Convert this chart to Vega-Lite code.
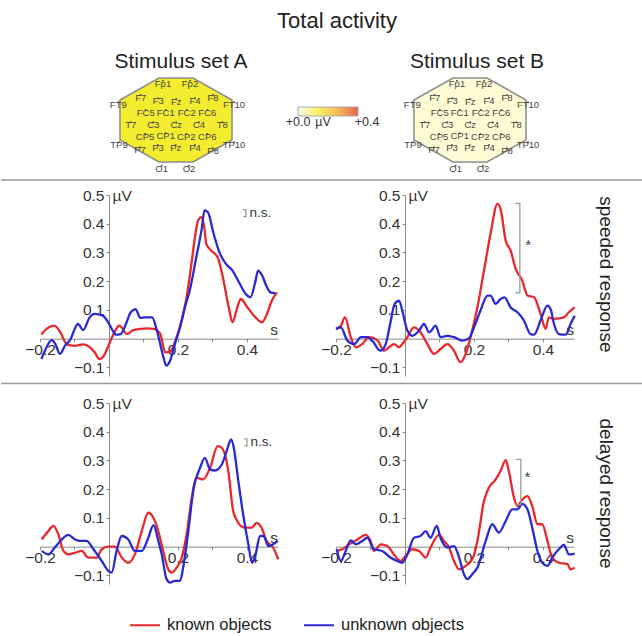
{
"$schema": "https://vega.github.io/schema/vega-lite/v6.json",
"padding": {"top": 10, "left": 0, "right": 0, "bottom": 0},
"background": "white",
"title": {"text": "Total activity", "fontSize": 22, "fontWeight": "normal", "color": "#222", "anchor": "middle", "dx": 15, "offset": 18},
"config": {"font": "Liberation Sans", "view": {"stroke": null}, "axis": {"labelOverlap": false}},
"bounds": "flush",
"spacing": 0,
"columns": 5,
"resolve": {"scale": {"fill": "independent"}},
"datasets": {
"electrodes": [
{"e":"Fp1","x":-13,"y":39.3},{"e":"Fp2","x":14,"y":39.3},
{"e":"F7","x":-35.3,"y":25},{"e":"F3","x":-17.7,"y":21.7},{"e":"Fz","x":0.3,"y":21},{"e":"F4","x":19,"y":21.7},{"e":"F8","x":37,"y":25},
{"e":"FT9","x":-57.7,"y":17.7},{"e":"FT10","x":58,"y":17.7},
{"e":"FC5","x":-30.3,"y":10},{"e":"FC1","x":-10.3,"y":10},{"e":"FC2","x":10.7,"y":10},{"e":"FC6","x":31.3,"y":10},
{"e":"T7","x":-45.3,"y":-2.3},{"e":"C3","x":-22.7,"y":-2.3},{"e":"Cz","x":0.3,"y":-2.3},{"e":"C4","x":23,"y":-2.3},{"e":"T8","x":46.3,"y":-2.3},
{"e":"CP5","x":-31,"y":-14},{"e":"CP1","x":-10.3,"y":-13.3},{"e":"CP2","x":10.3,"y":-14},{"e":"CP6","x":31.3,"y":-14},
{"e":"TP9","x":-57,"y":-22.3},{"e":"TP10","x":58,"y":-22.3},
{"e":"P7","x":-36,"y":-27.3},{"e":"P3","x":-18,"y":-25},{"e":"Pz","x":-0.3,"y":-25},{"e":"P4","x":19,"y":-25},{"e":"P8","x":37,"y":-28.3},
{"e":"O1","x":-14.3,"y":-45.7},{"e":"O2","x":13,"y":-45.7}
],
"brackets": [
{"panel":"A1","x":0.389,"y":0.449,"ord":0},{"panel":"A1","x":0.397,"y":0.449,"ord":1},{"panel":"A1","x":0.397,"y":0.425,"ord":2},{"panel":"A1","x":0.389,"y":0.425,"ord":3},
{"panel":"A2","x":0.392,"y":0.375,"ord":0},{"panel":"A2","x":0.4,"y":0.375,"ord":1},{"panel":"A2","x":0.4,"y":0.351,"ord":2},{"panel":"A2","x":0.392,"y":0.351,"ord":3},
{"panel":"B1","x":0.319,"y":0.471,"ord":0},{"panel":"B1","x":0.333,"y":0.471,"ord":1},{"panel":"B1","x":0.333,"y":0.159,"ord":2},{"panel":"B1","x":0.319,"y":0.159,"ord":3},
{"panel":"B2","x":0.322,"y":0.304,"ord":0},{"panel":"B2","x":0.336,"y":0.304,"ord":1},{"panel":"B2","x":0.336,"y":0.146,"ord":2},{"panel":"B2","x":0.322,"y":0.146,"ord":3}
],
"notes": [
{"panel":"A1","x":0.439,"y":0.437,"label":"n.s."},
{"panel":"A2","x":0.442,"y":0.363,"label":"n.s."},
{"panel":"B1","x":0.357,"y":0.324,"label":"*"},
{"panel":"B2","x":0.355,"y":0.239,"label":"*"}
],
"lines": [
{"panel":"A1","series":"known objects","x":-0.196,"y":0.014},{"panel":"A1","series":"known objects","x":-0.18,"y":0.035},{"panel":"A1","series":"known objects","x":-0.158,"y":0.045},{"panel":"A1","series":"known objects","x":-0.14,"y":0.02},{"panel":"A1","series":"known objects","x":-0.123,"y":-0.019},{"panel":"A1","series":"known objects","x":-0.1,"y":-0.025},{"panel":"A1","series":"known objects","x":-0.075,"y":-0.02},{"panel":"A1","series":"known objects","x":-0.055,"y":-0.03},{"panel":"A1","series":"known objects","x":-0.04,"y":-0.05},{"panel":"A1","series":"known objects","x":-0.028,"y":-0.071},{"panel":"A1","series":"known objects","x":-0.015,"y":-0.06},{"panel":"A1","series":"known objects","x":0.0,"y":-0.02},{"panel":"A1","series":"known objects","x":0.015,"y":0.02},{"panel":"A1","series":"known objects","x":0.03,"y":0.045},{"panel":"A1","series":"known objects","x":0.053,"y":0.016},{"panel":"A1","series":"known objects","x":0.07,"y":0.03},{"panel":"A1","series":"known objects","x":0.091,"y":0.034},{"panel":"A1","series":"known objects","x":0.11,"y":0.036},{"panel":"A1","series":"known objects","x":0.13,"y":0.034},{"panel":"A1","series":"known objects","x":0.149,"y":0.016},{"panel":"A1","series":"known objects","x":0.163,"y":-0.048},{"panel":"A1","series":"known objects","x":0.177,"y":-0.045},{"panel":"A1","series":"known objects","x":0.196,"y":0.005},{"panel":"A1","series":"known objects","x":0.212,"y":0.07},{"panel":"A1","series":"known objects","x":0.225,"y":0.144},{"panel":"A1","series":"known objects","x":0.239,"y":0.26},{"panel":"A1","series":"known objects","x":0.25,"y":0.36},{"panel":"A1","series":"known objects","x":0.258,"y":0.41},{"panel":"A1","series":"known objects","x":0.268,"y":0.423},{"panel":"A1","series":"known objects","x":0.276,"y":0.39},{"panel":"A1","series":"known objects","x":0.282,"y":0.33},{"panel":"A1","series":"known objects","x":0.296,"y":0.307},{"panel":"A1","series":"known objects","x":0.315,"y":0.283},{"panel":"A1","series":"known objects","x":0.33,"y":0.214},{"panel":"A1","series":"known objects","x":0.349,"y":0.098},{"panel":"A1","series":"known objects","x":0.358,"y":0.057},{"panel":"A1","series":"known objects","x":0.372,"y":0.109},{"panel":"A1","series":"known objects","x":0.382,"y":0.138},{"panel":"A1","series":"known objects","x":0.401,"y":0.109},{"panel":"A1","series":"known objects","x":0.425,"y":0.074},{"panel":"A1","series":"known objects","x":0.444,"y":0.057},{"panel":"A1","series":"known objects","x":0.458,"y":0.086},{"panel":"A1","series":"known objects","x":0.472,"y":0.132},{"panel":"A1","series":"known objects","x":0.487,"y":0.161},
{"panel":"A1","series":"unknown objects","x":-0.196,"y":-0.071},{"panel":"A1","series":"unknown objects","x":-0.185,"y":-0.04},{"panel":"A1","series":"unknown objects","x":-0.166,"y":-0.005},{"panel":"A1","series":"unknown objects","x":-0.155,"y":-0.02},{"panel":"A1","series":"unknown objects","x":-0.142,"y":-0.053},{"panel":"A1","series":"unknown objects","x":-0.128,"y":-0.025},{"panel":"A1","series":"unknown objects","x":-0.113,"y":-0.005},{"panel":"A1","series":"unknown objects","x":-0.09,"y":0.051},{"panel":"A1","series":"unknown objects","x":-0.075,"y":0.03},{"panel":"A1","series":"unknown objects","x":-0.056,"y":0.074},{"panel":"A1","series":"unknown objects","x":-0.042,"y":0.086},{"panel":"A1","series":"unknown objects","x":-0.018,"y":0.08},{"panel":"A1","series":"unknown objects","x":-0.004,"y":0.06},{"panel":"A1","series":"unknown objects","x":0.01,"y":0.03},{"panel":"A1","series":"unknown objects","x":0.02,"y":0.014},{"panel":"A1","series":"unknown objects","x":0.034,"y":0.016},{"panel":"A1","series":"unknown objects","x":0.049,"y":0.051},{"panel":"A1","series":"unknown objects","x":0.063,"y":0.092},{"panel":"A1","series":"unknown objects","x":0.077,"y":0.103},{"panel":"A1","series":"unknown objects","x":0.091,"y":0.072},{"panel":"A1","series":"unknown objects","x":0.105,"y":0.074},{"panel":"A1","series":"unknown objects","x":0.125,"y":0.074},{"panel":"A1","series":"unknown objects","x":0.139,"y":0.028},{"panel":"A1","series":"unknown objects","x":0.158,"y":-0.065},{"panel":"A1","series":"unknown objects","x":0.166,"y":-0.094},{"panel":"A1","series":"unknown objects","x":0.177,"y":-0.077},{"panel":"A1","series":"unknown objects","x":0.191,"y":-0.019},{"panel":"A1","series":"unknown objects","x":0.206,"y":0.039},{"panel":"A1","series":"unknown objects","x":0.22,"y":0.109},{"panel":"A1","series":"unknown objects","x":0.234,"y":0.167},{"panel":"A1","series":"unknown objects","x":0.253,"y":0.283},{"panel":"A1","series":"unknown objects","x":0.268,"y":0.376},{"panel":"A1","series":"unknown objects","x":0.277,"y":0.446},{"panel":"A1","series":"unknown objects","x":0.287,"y":0.44},{"panel":"A1","series":"unknown objects","x":0.301,"y":0.376},{"panel":"A1","series":"unknown objects","x":0.32,"y":0.301},{"panel":"A1","series":"unknown objects","x":0.339,"y":0.26},{"panel":"A1","series":"unknown objects","x":0.358,"y":0.237},{"panel":"A1","series":"unknown objects","x":0.377,"y":0.196},{"panel":"A1","series":"unknown objects","x":0.396,"y":0.156},{"panel":"A1","series":"unknown objects","x":0.41,"y":0.144},{"panel":"A1","series":"unknown objects","x":0.425,"y":0.202},{"panel":"A1","series":"unknown objects","x":0.432,"y":0.237},{"panel":"A1","series":"unknown objects","x":0.444,"y":0.22},{"panel":"A1","series":"unknown objects","x":0.458,"y":0.179},{"panel":"A1","series":"unknown objects","x":0.468,"y":0.161},{"panel":"A1","series":"unknown objects","x":0.482,"y":0.158},
{"panel":"B1","series":"known objects","x":-0.2,"y":0.034},{"panel":"B1","series":"known objects","x":-0.186,"y":0.045},{"panel":"B1","series":"known objects","x":-0.174,"y":0.074},{"panel":"B1","series":"known objects","x":-0.157,"y":0.005},{"panel":"B1","series":"known objects","x":-0.143,"y":-0.03},{"panel":"B1","series":"known objects","x":-0.124,"y":-0.019},{"panel":"B1","series":"known objects","x":-0.104,"y":0.005},{"panel":"B1","series":"known objects","x":-0.08,"y":-0.005},{"panel":"B1","series":"known objects","x":-0.061,"y":-0.042},{"panel":"B1","series":"known objects","x":-0.046,"y":-0.03},{"panel":"B1","series":"known objects","x":-0.032,"y":-0.019},{"panel":"B1","series":"known objects","x":-0.017,"y":-0.03},{"panel":"B1","series":"known objects","x":-0.008,"y":-0.019},{"panel":"B1","series":"known objects","x":0.007,"y":0.005},{"panel":"B1","series":"known objects","x":0.026,"y":0.039},{"panel":"B1","series":"known objects","x":0.045,"y":0.022},{"panel":"B1","series":"known objects","x":0.065,"y":-0.019},{"panel":"B1","series":"known objects","x":0.084,"y":-0.053},{"panel":"B1","series":"known objects","x":0.103,"y":-0.036},{"panel":"B1","series":"known objects","x":0.123,"y":-0.019},{"panel":"B1","series":"known objects","x":0.142,"y":-0.042},{"panel":"B1","series":"known objects","x":0.161,"y":-0.082},{"panel":"B1","series":"known objects","x":0.176,"y":-0.053},{"panel":"B1","series":"known objects","x":0.19,"y":0.005},{"panel":"B1","series":"known objects","x":0.21,"y":0.109},{"panel":"B1","series":"known objects","x":0.229,"y":0.237},{"panel":"B1","series":"known objects","x":0.248,"y":0.365},{"panel":"B1","series":"known objects","x":0.268,"y":0.469},{"panel":"B1","series":"known objects","x":0.277,"y":0.452},{"panel":"B1","series":"known objects","x":0.292,"y":0.341},{"panel":"B1","series":"known objects","x":0.306,"y":0.307},{"panel":"B1","series":"known objects","x":0.321,"y":0.243},{"panel":"B1","series":"known objects","x":0.34,"y":0.202},{"panel":"B1","series":"known objects","x":0.355,"y":0.15},{"panel":"B1","series":"known objects","x":0.374,"y":0.144},{"panel":"B1","series":"known objects","x":0.393,"y":0.086},{"panel":"B1","series":"known objects","x":0.408,"y":0.034},{"panel":"B1","series":"known objects","x":0.417,"y":0.074},{"panel":"B1","series":"known objects","x":0.432,"y":0.069},{"panel":"B1","series":"known objects","x":0.461,"y":0.074},{"panel":"B1","series":"known objects","x":0.475,"y":0.092},{"panel":"B1","series":"known objects","x":0.492,"y":0.109},
{"panel":"B1","series":"unknown objects","x":-0.2,"y":0.034},{"panel":"B1","series":"unknown objects","x":-0.186,"y":0.039},{"panel":"B1","series":"unknown objects","x":-0.167,"y":-0.007},{"panel":"B1","series":"unknown objects","x":-0.147,"y":-0.019},{"panel":"B1","series":"unknown objects","x":-0.128,"y":0.005},{"panel":"B1","series":"unknown objects","x":-0.109,"y":0.005},{"panel":"B1","series":"unknown objects","x":-0.095,"y":-0.007},{"panel":"B1","series":"unknown objects","x":-0.071,"y":-0.042},{"panel":"B1","series":"unknown objects","x":-0.056,"y":-0.019},{"panel":"B1","series":"unknown objects","x":-0.043,"y":0.051},{"panel":"B1","series":"unknown objects","x":-0.03,"y":0.121},{"panel":"B1","series":"unknown objects","x":-0.017,"y":0.132},{"panel":"B1","series":"unknown objects","x":-0.008,"y":0.098},{"panel":"B1","series":"unknown objects","x":0.007,"y":0.028},{"panel":"B1","series":"unknown objects","x":0.021,"y":0.01},{"panel":"B1","series":"unknown objects","x":0.041,"y":0.028},{"panel":"B1","series":"unknown objects","x":0.055,"y":0.051},{"panel":"B1","series":"unknown objects","x":0.07,"y":0.022},{"panel":"B1","series":"unknown objects","x":0.089,"y":0.045},{"panel":"B1","series":"unknown objects","x":0.103,"y":0.005},{"panel":"B1","series":"unknown objects","x":0.123,"y":0.01},{"panel":"B1","series":"unknown objects","x":0.142,"y":0.005},{"panel":"B1","series":"unknown objects","x":0.166,"y":-0.007},{"panel":"B1","series":"unknown objects","x":0.186,"y":0.002},{"panel":"B1","series":"unknown objects","x":0.2,"y":0.039},{"panel":"B1","series":"unknown objects","x":0.219,"y":0.098},{"panel":"B1","series":"unknown objects","x":0.239,"y":0.15},{"panel":"B1","series":"unknown objects","x":0.248,"y":0.15},{"panel":"B1","series":"unknown objects","x":0.263,"y":0.121},{"panel":"B1","series":"unknown objects","x":0.277,"y":0.138},{"panel":"B1","series":"unknown objects","x":0.289,"y":0.144},{"panel":"B1","series":"unknown objects","x":0.306,"y":0.109},{"panel":"B1","series":"unknown objects","x":0.326,"y":0.092},{"panel":"B1","series":"unknown objects","x":0.345,"y":0.063},{"panel":"B1","series":"unknown objects","x":0.364,"y":0.016},{"panel":"B1","series":"unknown objects","x":0.374,"y":0.014},{"panel":"B1","series":"unknown objects","x":0.393,"y":0.063},{"panel":"B1","series":"unknown objects","x":0.413,"y":0.115},{"panel":"B1","series":"unknown objects","x":0.422,"y":0.103},{"panel":"B1","series":"unknown objects","x":0.432,"y":0.051},{"panel":"B1","series":"unknown objects","x":0.446,"y":0.016},{"panel":"B1","series":"unknown objects","x":0.466,"y":0.014},{"panel":"B1","series":"unknown objects","x":0.48,"y":0.051},{"panel":"B1","series":"unknown objects","x":0.492,"y":0.08},
{"panel":"A2","series":"known objects","x":-0.195,"y":0.025},{"panel":"A2","series":"known objects","x":-0.176,"y":0.054},{"panel":"A2","series":"known objects","x":-0.161,"y":0.072},{"panel":"A2","series":"known objects","x":-0.147,"y":0.043},{"panel":"A2","series":"known objects","x":-0.132,"y":-0.015},{"panel":"A2","series":"known objects","x":-0.118,"y":-0.027},{"panel":"A2","series":"known objects","x":-0.098,"y":-0.021},{"panel":"A2","series":"known objects","x":-0.079,"y":-0.015},{"panel":"A2","series":"known objects","x":-0.06,"y":-0.038},{"panel":"A2","series":"known objects","x":-0.036,"y":-0.038},{"panel":"A2","series":"known objects","x":-0.021,"y":-0.009},{"panel":"A2","series":"known objects","x":-0.002,"y":0.0},{"panel":"A2","series":"known objects","x":0.017,"y":0.0},{"panel":"A2","series":"known objects","x":0.037,"y":-0.038},{"panel":"A2","series":"known objects","x":0.056,"y":-0.056},{"panel":"A2","series":"known objects","x":0.075,"y":-0.027},{"panel":"A2","series":"known objects","x":0.095,"y":0.054},{"panel":"A2","series":"known objects","x":0.114,"y":0.118},{"panel":"A2","series":"known objects","x":0.129,"y":0.1},{"panel":"A2","series":"known objects","x":0.143,"y":0.054},{"panel":"A2","series":"known objects","x":0.157,"y":-0.015},{"panel":"A2","series":"known objects","x":0.172,"y":-0.079},{"panel":"A2","series":"known objects","x":0.182,"y":-0.09},{"panel":"A2","series":"known objects","x":0.196,"y":-0.073},{"panel":"A2","series":"known objects","x":0.211,"y":-0.038},{"panel":"A2","series":"known objects","x":0.225,"y":0.043},{"panel":"A2","series":"known objects","x":0.24,"y":0.17},{"panel":"A2","series":"known objects","x":0.254,"y":0.24},{"panel":"A2","series":"known objects","x":0.273,"y":0.234},{"panel":"A2","series":"known objects","x":0.293,"y":0.274},{"panel":"A2","series":"known objects","x":0.315,"y":0.35},{"panel":"A2","series":"known objects","x":0.327,"y":0.344},{"panel":"A2","series":"known objects","x":0.346,"y":0.263},{"panel":"A2","series":"known objects","x":0.36,"y":0.124},{"panel":"A2","series":"known objects","x":0.375,"y":0.083},{"panel":"A2","series":"known objects","x":0.394,"y":0.066},{"panel":"A2","series":"known objects","x":0.414,"y":0.066},{"panel":"A2","series":"known objects","x":0.428,"y":0.083},{"panel":"A2","series":"known objects","x":0.442,"y":0.066},{"panel":"A2","series":"known objects","x":0.457,"y":0.02},{"panel":"A2","series":"known objects","x":0.476,"y":-0.003},{"panel":"A2","series":"known objects","x":0.491,"y":-0.044},
{"panel":"A2","series":"unknown objects","x":-0.195,"y":-0.015},{"panel":"A2","series":"unknown objects","x":-0.176,"y":-0.027},{"panel":"A2","series":"unknown objects","x":-0.157,"y":-0.003},{"panel":"A2","series":"unknown objects","x":-0.137,"y":0.025},{"panel":"A2","series":"unknown objects","x":-0.118,"y":0.041},{"panel":"A2","series":"unknown objects","x":-0.098,"y":0.025},{"panel":"A2","series":"unknown objects","x":-0.084,"y":0.02},{"panel":"A2","series":"unknown objects","x":-0.065,"y":0.02},{"panel":"A2","series":"unknown objects","x":-0.045,"y":-0.009},{"panel":"A2","series":"unknown objects","x":-0.021,"y":-0.05},{"panel":"A2","series":"unknown objects","x":-0.002,"y":-0.084},{"panel":"A2","series":"unknown objects","x":0.008,"y":-0.09},{"panel":"A2","series":"unknown objects","x":0.022,"y":-0.015},{"panel":"A2","series":"unknown objects","x":0.037,"y":0.037},{"panel":"A2","series":"unknown objects","x":0.056,"y":0.025},{"panel":"A2","series":"unknown objects","x":0.075,"y":-0.015},{"panel":"A2","series":"unknown objects","x":0.095,"y":-0.015},{"panel":"A2","series":"unknown objects","x":0.114,"y":0.031},{"panel":"A2","series":"unknown objects","x":0.129,"y":0.075},{"panel":"A2","series":"unknown objects","x":0.143,"y":0.02},{"panel":"A2","series":"unknown objects","x":0.153,"y":-0.027},{"panel":"A2","series":"unknown objects","x":0.167,"y":-0.113},{"panel":"A2","series":"unknown objects","x":0.177,"y":-0.125},{"panel":"A2","series":"unknown objects","x":0.191,"y":-0.119},{"panel":"A2","series":"unknown objects","x":0.206,"y":-0.119},{"panel":"A2","series":"unknown objects","x":0.215,"y":-0.073},{"panel":"A2","series":"unknown objects","x":0.23,"y":0.054},{"panel":"A2","series":"unknown objects","x":0.244,"y":0.193},{"panel":"A2","series":"unknown objects","x":0.264,"y":0.274},{"panel":"A2","series":"unknown objects","x":0.278,"y":0.309},{"panel":"A2","series":"unknown objects","x":0.293,"y":0.269},{"panel":"A2","series":"unknown objects","x":0.307,"y":0.265},{"panel":"A2","series":"unknown objects","x":0.327,"y":0.286},{"panel":"A2","series":"unknown objects","x":0.341,"y":0.332},{"panel":"A2","series":"unknown objects","x":0.354,"y":0.373},{"panel":"A2","series":"unknown objects","x":0.36,"y":0.355},{"panel":"A2","series":"unknown objects","x":0.375,"y":0.228},{"panel":"A2","series":"unknown objects","x":0.389,"y":0.112},{"panel":"A2","series":"unknown objects","x":0.404,"y":0.008},{"panel":"A2","series":"unknown objects","x":0.415,"y":-0.056},{"panel":"A2","series":"unknown objects","x":0.425,"y":-0.027},{"panel":"A2","series":"unknown objects","x":0.438,"y":0.037},{"panel":"A2","series":"unknown objects","x":0.448,"y":0.037},{"panel":"A2","series":"unknown objects","x":0.462,"y":0.002},{"panel":"A2","series":"unknown objects","x":0.476,"y":0.008},{"panel":"A2","series":"unknown objects","x":0.489,"y":0.02},
{"panel":"B2","series":"known objects","x":-0.198,"y":-0.015},{"panel":"B2","series":"known objects","x":-0.181,"y":-0.009},{"panel":"B2","series":"known objects","x":-0.162,"y":0.008},{"panel":"B2","series":"known objects","x":-0.138,"y":0.025},{"panel":"B2","series":"known objects","x":-0.114,"y":0.041},{"panel":"B2","series":"known objects","x":-0.1,"y":0.02},{"panel":"B2","series":"known objects","x":-0.09,"y":-0.015},{"panel":"B2","series":"known objects","x":-0.07,"y":0.008},{"panel":"B2","series":"known objects","x":-0.051,"y":0.002},{"panel":"B2","series":"known objects","x":-0.032,"y":-0.027},{"panel":"B2","series":"known objects","x":-0.013,"y":-0.05},{"panel":"B2","series":"known objects","x":0.002,"y":-0.032},{"panel":"B2","series":"known objects","x":0.021,"y":-0.009},{"panel":"B2","series":"known objects","x":0.041,"y":-0.015},{"panel":"B2","series":"known objects","x":0.06,"y":-0.038},{"panel":"B2","series":"known objects","x":0.074,"y":-0.003},{"panel":"B2","series":"known objects","x":0.099,"y":0.041},{"panel":"B2","series":"known objects","x":0.113,"y":0.02},{"panel":"B2","series":"known objects","x":0.128,"y":-0.003},{"panel":"B2","series":"known objects","x":0.142,"y":-0.05},{"panel":"B2","series":"known objects","x":0.157,"y":-0.079},{"panel":"B2","series":"known objects","x":0.176,"y":-0.067},{"panel":"B2","series":"known objects","x":0.195,"y":-0.044},{"panel":"B2","series":"known objects","x":0.21,"y":0.02},{"panel":"B2","series":"known objects","x":0.229,"y":0.159},{"panel":"B2","series":"known objects","x":0.243,"y":0.205},{"panel":"B2","series":"known objects","x":0.263,"y":0.234},{"panel":"B2","series":"known objects","x":0.277,"y":0.263},{"panel":"B2","series":"known objects","x":0.292,"y":0.301},{"panel":"B2","series":"known objects","x":0.301,"y":0.263},{"panel":"B2","series":"known objects","x":0.316,"y":0.17},{"panel":"B2","series":"known objects","x":0.326,"y":0.141},{"panel":"B2","series":"known objects","x":0.34,"y":0.164},{"panel":"B2","series":"known objects","x":0.355,"y":0.176},{"panel":"B2","series":"known objects","x":0.369,"y":0.141},{"panel":"B2","series":"known objects","x":0.384,"y":0.078},{"panel":"B2","series":"known objects","x":0.398,"y":0.078},{"panel":"B2","series":"known objects","x":0.413,"y":0.02},{"panel":"B2","series":"known objects","x":0.427,"y":-0.038},{"panel":"B2","series":"known objects","x":0.446,"y":-0.056},{"panel":"B2","series":"known objects","x":0.471,"y":-0.061},{"panel":"B2","series":"known objects","x":0.48,"y":-0.079},{"panel":"B2","series":"known objects","x":0.492,"y":-0.073},
{"panel":"B2","series":"unknown objects","x":-0.198,"y":-0.009},{"panel":"B2","series":"unknown objects","x":-0.186,"y":-0.05},{"panel":"B2","series":"unknown objects","x":-0.172,"y":-0.015},{"panel":"B2","series":"unknown objects","x":-0.157,"y":0.022},{"panel":"B2","series":"unknown objects","x":-0.143,"y":0.008},{"panel":"B2","series":"unknown objects","x":-0.124,"y":0.02},{"panel":"B2","series":"unknown objects","x":-0.109,"y":0.031},{"panel":"B2","series":"unknown objects","x":-0.09,"y":-0.009},{"panel":"B2","series":"unknown objects","x":-0.066,"y":-0.015},{"panel":"B2","series":"unknown objects","x":-0.042,"y":-0.038},{"panel":"B2","series":"unknown objects","x":-0.023,"y":-0.05},{"panel":"B2","series":"unknown objects","x":-0.008,"y":-0.056},{"panel":"B2","series":"unknown objects","x":0.007,"y":-0.027},{"panel":"B2","series":"unknown objects","x":0.026,"y":0.031},{"panel":"B2","series":"unknown objects","x":0.045,"y":0.037},{"panel":"B2","series":"unknown objects","x":0.06,"y":0.054},{"panel":"B2","series":"unknown objects","x":0.074,"y":0.031},{"panel":"B2","series":"unknown objects","x":0.092,"y":0.072},{"panel":"B2","series":"unknown objects","x":0.103,"y":0.031},{"panel":"B2","series":"unknown objects","x":0.123,"y":-0.003},{"panel":"B2","series":"unknown objects","x":0.142,"y":0.002},{"panel":"B2","series":"unknown objects","x":0.157,"y":-0.038},{"panel":"B2","series":"unknown objects","x":0.171,"y":-0.096},{"panel":"B2","series":"unknown objects","x":0.181,"y":-0.113},{"panel":"B2","series":"unknown objects","x":0.195,"y":-0.096},{"panel":"B2","series":"unknown objects","x":0.21,"y":-0.073},{"panel":"B2","series":"unknown objects","x":0.234,"y":0.02},{"panel":"B2","series":"unknown objects","x":0.253,"y":0.078},{"panel":"B2","series":"unknown objects","x":0.272,"y":0.049},{"panel":"B2","series":"unknown objects","x":0.292,"y":0.089},{"panel":"B2","series":"unknown objects","x":0.311,"y":0.13},{"panel":"B2","series":"unknown objects","x":0.326,"y":0.13},{"panel":"B2","series":"unknown objects","x":0.34,"y":0.149},{"panel":"B2","series":"unknown objects","x":0.355,"y":0.13},{"panel":"B2","series":"unknown objects","x":0.369,"y":0.066},{"panel":"B2","series":"unknown objects","x":0.384,"y":-0.015},{"panel":"B2","series":"unknown objects","x":0.398,"y":-0.056},{"panel":"B2","series":"unknown objects","x":0.413,"y":-0.067},{"panel":"B2","series":"unknown objects","x":0.427,"y":-0.038},{"panel":"B2","series":"unknown objects","x":0.446,"y":-0.009},{"panel":"B2","series":"unknown objects","x":0.461,"y":0.006},{"panel":"B2","series":"unknown objects","x":0.475,"y":-0.027},{"panel":"B2","series":"unknown objects","x":0.492,"y":-0.024}
]
},
"concat": [
{"width": 39, "height": 108, "data": {"values": []}, "mark": "rule", "encoding": {}},
{"width": 238, "height": 108,
 "title": {"text": "Stimulus set A", "fontSize": 21, "fontWeight": "normal", "color": "#222", "offset": 0, "dx": 22},
 "layer": [
  {"data": {"values": [{"x": -56, "top": 20, "bot": -20, "level": 0.12}, {"x": -17, "top": 42, "bot": -42, "level": 0.12}, {"x": 17, "top": 42, "bot": -42, "level": 0.12}, {"x": 56, "top": 20, "bot": -20, "level": 0.12}]},
   "mark": {"type": "area", "stroke": "#8c8c8c", "strokeWidth": 1.5},
   "encoding": {
    "x": {"field": "x", "type": "quantitative", "scale": {"domain": [-136, 102], "nice": false, "zero": false}, "axis": null},
    "y": {"field": "top", "type": "quantitative", "scale": {"domain": [-60, 48], "nice": false, "zero": false}, "axis": null},
    "y2": {"field": "bot"},
    "fill": {"field": "level", "type": "quantitative", "scale": {"domain": [0, 0.13, 0.27, 0.4], "range": ["#fffff5", "#f3ec1e", "#f49a12", "#e61e0c"], "interpolate": "rgb"}, "legend": null}
   }},
  {"data": {"name": "electrodes"}, "mark": {"type": "point", "filled": true, "size": 4, "color": "#555", "opacity": 1},
   "encoding": {"x": {"field": "x", "type": "quantitative"}, "y": {"field": "y", "type": "quantitative"}}},
  {"data": {"name": "electrodes"}, "mark": {"type": "text", "fontSize": 9.5, "color": "#444", "dy": 3},
   "encoding": {"x": {"field": "x", "type": "quantitative"}, "y": {"field": "y", "type": "quantitative"}, "text": {"field": "e"}}}
 ]},
{"width": 58, "height": 108,
 "layer": [
  {"data": {"values": [{"v": 0}, {"v": 0.4}]},
   "mark": {"type": "point", "filled": true, "size": 0},
   "encoding": {"fill": {"field": "v", "type": "quantitative",
     "scale": {"domain": [0, 0.13, 0.27, 0.4], "range": ["#fffff5", "#f3ec1e", "#f49a12", "#e61e0c"], "interpolate": "rgb"},
     "legend": {"orient": "none", "legendX": 20, "legendY": 35, "direction": "horizontal", "title": null, "gradientLength": 60, "gradientThickness": 9, "gradientStrokeColor": "#888", "gradientStrokeWidth": 1, "labelExpr": "''", "labelFontSize": 1}}}},
  {"data": {"values": [{"t": "+0.0", "v": 0, "h": 58}, {"t": "µV", "v": 0.167, "h": 58}, {"t": "+0.4", "v": 0.46, "h": 58}]},
   "mark": {"type": "text", "fontSize": 12.5, "color": "#333", "baseline": "middle"},
   "encoding": {"x": {"field": "v", "type": "quantitative", "scale": {"domain": [-0.13333, 0.25333], "nice": false, "zero": false}, "axis": null},
     "y": {"field": "h", "type": "quantitative", "scale": {"domain": [0, 108], "nice": false, "zero": false}, "axis": null},
     "text": {"field": "t"}}}
 ]},
{"width": 238, "height": 108,
 "title": {"text": "Stimulus set B", "fontSize": 21, "fontWeight": "normal", "color": "#222", "offset": 0, "dx": 22},
 "layer": [
  {"data": {"values": [{"x": -56, "top": 20, "bot": -20, "level": 0.02}, {"x": -17, "top": 42, "bot": -42, "level": 0.02}, {"x": 17, "top": 42, "bot": -42, "level": 0.02}, {"x": 56, "top": 20, "bot": -20, "level": 0.02}]},
   "mark": {"type": "area", "stroke": "#8c8c8c", "strokeWidth": 1.5},
   "encoding": {
    "x": {"field": "x", "type": "quantitative", "scale": {"domain": [-134, 104], "nice": false, "zero": false}, "axis": null},
    "y": {"field": "top", "type": "quantitative", "scale": {"domain": [-60, 48], "nice": false, "zero": false}, "axis": null},
    "y2": {"field": "bot"},
    "fill": {"field": "level", "type": "quantitative", "scale": {"domain": [0, 0.13, 0.27, 0.4], "range": ["#fffff5", "#f3ec1e", "#f49a12", "#e61e0c"], "interpolate": "rgb"}, "legend": null}
   }},
  {"data": {"name": "electrodes"}, "mark": {"type": "point", "filled": true, "size": 4, "color": "#555", "opacity": 1},
   "encoding": {"x": {"field": "x", "type": "quantitative"}, "y": {"field": "y", "type": "quantitative"}}},
  {"data": {"name": "electrodes"}, "mark": {"type": "text", "fontSize": 9.5, "color": "#444", "dy": 3},
   "encoding": {"x": {"field": "x", "type": "quantitative"}, "y": {"field": "y", "type": "quantitative"}, "text": {"field": "e"}}}
 ]},
{"width": 69, "height": 108, "data": {"values": []}, "mark": "rule", "encoding": {}},

{"width": 39, "height": 14.5, "data": {"values": [{"a": 0, "b": 1, "y": 1}]}, "mark": {"type": "rule", "color": "#9a9a9a", "strokeWidth": 1.5}, "encoding": {"x": {"field": "a", "type": "quantitative", "scale": {"domain": [0, 1]}, "axis": null}, "x2": {"field": "b"}, "y": {"field": "y", "type": "quantitative", "scale": {"domain": [0, 1]}, "axis": null}}},
{"width": 238, "height": 14.5, "data": {"values": [{"a": 0, "b": 1, "y": 1}]}, "mark": {"type": "rule", "color": "#9a9a9a", "strokeWidth": 1.5}, "encoding": {"x": {"field": "a", "type": "quantitative", "scale": {"domain": [0, 1]}, "axis": null}, "x2": {"field": "b"}, "y": {"field": "y", "type": "quantitative", "scale": {"domain": [0, 1]}, "axis": null}}},
{"width": 58, "height": 14.5, "data": {"values": [{"a": 0, "b": 1, "y": 1}]}, "mark": {"type": "rule", "color": "#9a9a9a", "strokeWidth": 1.5}, "encoding": {"x": {"field": "a", "type": "quantitative", "scale": {"domain": [0, 1]}, "axis": null}, "x2": {"field": "b"}, "y": {"field": "y", "type": "quantitative", "scale": {"domain": [0, 1]}, "axis": null}}},
{"width": 238, "height": 14.5, "data": {"values": [{"a": 0, "b": 1, "y": 1}]}, "mark": {"type": "rule", "color": "#9a9a9a", "strokeWidth": 1.5}, "encoding": {"x": {"field": "a", "type": "quantitative", "scale": {"domain": [0, 1]}, "axis": null}, "x2": {"field": "b"}, "y": {"field": "y", "type": "quantitative", "scale": {"domain": [0, 1]}, "axis": null}}},
{"width": 69, "height": 14.5, "data": {"values": [{"a": 0, "b": 1, "y": 1}]}, "mark": {"type": "rule", "color": "#9a9a9a", "strokeWidth": 1.5}, "encoding": {"x": {"field": "a", "type": "quantitative", "scale": {"domain": [0, 1]}, "axis": null}, "x2": {"field": "b"}, "y": {"field": "y", "type": "quantitative", "scale": {"domain": [0, 1]}, "axis": null}}},

{"width": 39, "height": 181, "data": {"values": []}, "mark": "rule", "encoding": {}},
{"width": 238, "height": 181,
 "layer": [
  {"data": {"name": "lines"}, "transform": [{"filter": "datum.panel == 'A1'"}],
   "mark": {"type": "line", "strokeWidth": 2.3, "interpolate": "monotone"},
   "encoding": {
    "x": {"field": "x", "type": "quantitative", "scale": {"domain": [-0.2, 0.49], "nice": false, "zero": false},
      "axis": {"orient": "bottom", "offset": -37.35, "values": [-0.2, -0.1, 0.1, 0.2, 0.3, 0.4], "tickCount": 20, "labelExpr": "(datum.value > -0.15 && datum.value < 0.15) || (datum.value > 0.25 && datum.value < 0.35) ? '' : format(datum.value, '.1f')", "labelFlush": false, "labelOverlap": false, "grid": false, "domainColor": "#8a8a8a", "tickColor": "#8a8a8a", "tickSize": 3, "labelFontSize": 15.5, "labelColor": "#333", "labelPadding": 1, "title": "s", "titleX": 233.5, "titleY": -4, "titleAlign": "center", "titleBaseline": "alphabetic", "titleFontSize": 15.5, "titleFontWeight": "normal", "titleColor": "#333"}},
    "y": {"field": "y", "type": "quantitative", "scale": {"domain": [-0.13, 0.5], "nice": false, "zero": false},
      "axis": {"orient": "left", "offset": -69, "values": [-0.1, 0.1, 0.2, 0.3, 0.4, 0.5], "tickCount": 20, "format": ".1f", "labelFlush": false, "labelOverlap": false, "grid": false, "domainColor": "#8a8a8a", "tickColor": "#8a8a8a", "tickSize": 3, "labelFontSize": 15.5, "labelColor": "#333", "labelPadding": 2, "title": "µV", "titleAngle": 0, "titleX": 3, "titleY": 0, "titleAlign": "left", "titleBaseline": "middle", "titleFontSize": 15.5, "titleFontWeight": "normal", "titleColor": "#333"}},
    "color": {"field": "series", "type": "nominal", "scale": {"domain": ["known objects", "unknown objects"], "range": ["#e8282c", "#2a2ad2"]},
      "legend": {"orient": "none", "legendX": 128, "legendY": 537, "direction": "horizontal", "title": null, "symbolType": "stroke", "symbolSize": 900, "symbolStrokeWidth": 2, "labelFontSize": 16.5, "labelColor": "#222", "columnPadding": 28, "labelOffset": 6}}
   }},
  {"data": {"name": "brackets"}, "transform": [{"filter": "datum.panel == 'A1'"}],
   "mark": {"type": "line", "color": "#999", "strokeWidth": 1.3},
   "encoding": {"x": {"field": "x", "type": "quantitative"}, "y": {"field": "y", "type": "quantitative"}, "order": {"field": "ord"}}},
  {"data": {"name": "notes"}, "transform": [{"filter": "datum.panel == 'A1'"}],
   "mark": {"type": "text", "fontSize": 13.5, "color": "#333"},
   "encoding": {"x": {"field": "x", "type": "quantitative"}, "y": {"field": "y", "type": "quantitative"}, "text": {"field": "label"}}}
 ]},
{"width": 58, "height": 181, "data": {"values": []}, "mark": "rule", "encoding": {}},
{"width": 238, "height": 181,
 "layer": [
  {"data": {"name": "lines"}, "transform": [{"filter": "datum.panel == 'B1'"}],
   "mark": {"type": "line", "strokeWidth": 2.3, "interpolate": "monotone"},
   "encoding": {
    "x": {"field": "x", "type": "quantitative", "scale": {"domain": [-0.2, 0.49], "nice": false, "zero": false},
      "axis": {"orient": "bottom", "offset": -37.35, "values": [-0.2, -0.1, 0.1, 0.2, 0.3, 0.4], "tickCount": 20, "labelExpr": "(datum.value > -0.15 && datum.value < 0.15) || (datum.value > 0.25 && datum.value < 0.35) ? '' : format(datum.value, '.1f')", "labelFlush": false, "labelOverlap": false, "grid": false, "domainColor": "#8a8a8a", "tickColor": "#8a8a8a", "tickSize": 3, "labelFontSize": 15.5, "labelColor": "#333", "labelPadding": 1, "title": "s", "titleX": 233.5, "titleY": -4, "titleAlign": "center", "titleBaseline": "alphabetic", "titleFontSize": 15.5, "titleFontWeight": "normal", "titleColor": "#333"}},
    "y": {"field": "y", "type": "quantitative", "scale": {"domain": [-0.13, 0.5], "nice": false, "zero": false},
      "axis": {"orient": "left", "offset": -69, "values": [-0.1, 0.1, 0.2, 0.3, 0.4, 0.5], "tickCount": 20, "format": ".1f", "labelFlush": false, "labelOverlap": false, "grid": false, "domainColor": "#8a8a8a", "tickColor": "#8a8a8a", "tickSize": 3, "labelFontSize": 15.5, "labelColor": "#333", "labelPadding": 2, "title": "µV", "titleAngle": 0, "titleX": 3, "titleY": 0, "titleAlign": "left", "titleBaseline": "middle", "titleFontSize": 15.5, "titleFontWeight": "normal", "titleColor": "#333"}},
    "color": {"field": "series", "type": "nominal", "scale": {"domain": ["known objects", "unknown objects"], "range": ["#e8282c", "#2a2ad2"]},
      "legend": {"orient": "none", "legendX": 128, "legendY": 537, "direction": "horizontal", "title": null, "symbolType": "stroke", "symbolSize": 900, "symbolStrokeWidth": 2, "labelFontSize": 16.5, "labelColor": "#222", "columnPadding": 28, "labelOffset": 6}}
   }},
  {"data": {"name": "brackets"}, "transform": [{"filter": "datum.panel == 'B1'"}],
   "mark": {"type": "line", "color": "#999", "strokeWidth": 1.3},
   "encoding": {"x": {"field": "x", "type": "quantitative"}, "y": {"field": "y", "type": "quantitative"}, "order": {"field": "ord"}}},
  {"data": {"name": "notes"}, "transform": [{"filter": "datum.panel == 'B1'"}],
   "mark": {"type": "text", "fontSize": 14, "color": "#333"},
   "encoding": {"x": {"field": "x", "type": "quantitative"}, "y": {"field": "y", "type": "quantitative"}, "text": {"field": "label"}}}
 ]},
{"width": 69, "height": 181, "data": {"values": [{"label": "speeded response"}]},
 "mark": {"type": "text", "angle": 90, "fontSize": 19, "color": "#222", "dx": -11, "dy": 2.5, "align": "center", "baseline": "middle"},
 "encoding": {"text": {"field": "label"}}},

{"width": 39, "height": 27, "data": {"values": [{"a": 0, "b": 1, "y": 0.722}]}, "mark": {"type": "rule", "color": "#9a9a9a", "strokeWidth": 1.5}, "encoding": {"x": {"field": "a", "type": "quantitative", "scale": {"domain": [0, 1]}, "axis": null}, "x2": {"field": "b"}, "y": {"field": "y", "type": "quantitative", "scale": {"domain": [0, 1]}, "axis": null}}},
{"width": 238, "height": 27, "data": {"values": [{"a": 0, "b": 1, "y": 0.722}]}, "mark": {"type": "rule", "color": "#9a9a9a", "strokeWidth": 1.5}, "encoding": {"x": {"field": "a", "type": "quantitative", "scale": {"domain": [0, 1]}, "axis": null}, "x2": {"field": "b"}, "y": {"field": "y", "type": "quantitative", "scale": {"domain": [0, 1]}, "axis": null}}},
{"width": 58, "height": 27, "data": {"values": [{"a": 0, "b": 1, "y": 0.722}]}, "mark": {"type": "rule", "color": "#9a9a9a", "strokeWidth": 1.5}, "encoding": {"x": {"field": "a", "type": "quantitative", "scale": {"domain": [0, 1]}, "axis": null}, "x2": {"field": "b"}, "y": {"field": "y", "type": "quantitative", "scale": {"domain": [0, 1]}, "axis": null}}},
{"width": 238, "height": 27, "data": {"values": [{"a": 0, "b": 1, "y": 0.722}]}, "mark": {"type": "rule", "color": "#9a9a9a", "strokeWidth": 1.5}, "encoding": {"x": {"field": "a", "type": "quantitative", "scale": {"domain": [0, 1]}, "axis": null}, "x2": {"field": "b"}, "y": {"field": "y", "type": "quantitative", "scale": {"domain": [0, 1]}, "axis": null}}},
{"width": 69, "height": 27, "data": {"values": [{"a": 0, "b": 1, "y": 0.722}]}, "mark": {"type": "rule", "color": "#9a9a9a", "strokeWidth": 1.5}, "encoding": {"x": {"field": "a", "type": "quantitative", "scale": {"domain": [0, 1]}, "axis": null}, "x2": {"field": "b"}, "y": {"field": "y", "type": "quantitative", "scale": {"domain": [0, 1]}, "axis": null}}},

{"width": 39, "height": 181, "data": {"values": []}, "mark": "rule", "encoding": {}},
{"width": 238, "height": 181,
 "layer": [
  {"data": {"name": "lines"}, "transform": [{"filter": "datum.panel == 'A2'"}],
   "mark": {"type": "line", "strokeWidth": 2.3, "interpolate": "monotone"},
   "encoding": {
    "x": {"field": "x", "type": "quantitative", "scale": {"domain": [-0.2, 0.49], "nice": false, "zero": false},
      "axis": {"orient": "bottom", "offset": -37.35, "values": [-0.2, -0.1, 0.1, 0.2, 0.3, 0.4], "tickCount": 20, "labelExpr": "(datum.value > -0.15 && datum.value < 0.15) || (datum.value > 0.25 && datum.value < 0.35) ? '' : format(datum.value, '.1f')", "labelFlush": false, "labelOverlap": false, "grid": false, "domainColor": "#8a8a8a", "tickColor": "#8a8a8a", "tickSize": 3, "labelFontSize": 15.5, "labelColor": "#333", "labelPadding": 1, "title": "s", "titleX": 233.5, "titleY": -4, "titleAlign": "center", "titleBaseline": "alphabetic", "titleFontSize": 15.5, "titleFontWeight": "normal", "titleColor": "#333"}},
    "y": {"field": "y", "type": "quantitative", "scale": {"domain": [-0.13, 0.5], "nice": false, "zero": false},
      "axis": {"orient": "left", "offset": -69, "values": [-0.1, 0.1, 0.2, 0.3, 0.4, 0.5], "tickCount": 20, "format": ".1f", "labelFlush": false, "labelOverlap": false, "grid": false, "domainColor": "#8a8a8a", "tickColor": "#8a8a8a", "tickSize": 3, "labelFontSize": 15.5, "labelColor": "#333", "labelPadding": 2, "title": "µV", "titleAngle": 0, "titleX": 3, "titleY": 0, "titleAlign": "left", "titleBaseline": "middle", "titleFontSize": 15.5, "titleFontWeight": "normal", "titleColor": "#333"}},
    "color": {"field": "series", "type": "nominal", "scale": {"domain": ["known objects", "unknown objects"], "range": ["#e8282c", "#2a2ad2"]},
      "legend": {"orient": "none", "legendX": 128, "legendY": 537, "direction": "horizontal", "title": null, "symbolType": "stroke", "symbolSize": 900, "symbolStrokeWidth": 2, "labelFontSize": 16.5, "labelColor": "#222", "columnPadding": 28, "labelOffset": 6}}
   }},
  {"data": {"name": "brackets"}, "transform": [{"filter": "datum.panel == 'A2'"}],
   "mark": {"type": "line", "color": "#999", "strokeWidth": 1.3},
   "encoding": {"x": {"field": "x", "type": "quantitative"}, "y": {"field": "y", "type": "quantitative"}, "order": {"field": "ord"}}},
  {"data": {"name": "notes"}, "transform": [{"filter": "datum.panel == 'A2'"}],
   "mark": {"type": "text", "fontSize": 13.5, "color": "#333"},
   "encoding": {"x": {"field": "x", "type": "quantitative"}, "y": {"field": "y", "type": "quantitative"}, "text": {"field": "label"}}}
 ]},
{"width": 58, "height": 181, "data": {"values": []}, "mark": "rule", "encoding": {}},
{"width": 238, "height": 181,
 "layer": [
  {"data": {"name": "lines"}, "transform": [{"filter": "datum.panel == 'B2'"}],
   "mark": {"type": "line", "strokeWidth": 2.3, "interpolate": "monotone"},
   "encoding": {
    "x": {"field": "x", "type": "quantitative", "scale": {"domain": [-0.2, 0.49], "nice": false, "zero": false},
      "axis": {"orient": "bottom", "offset": -37.35, "values": [-0.2, -0.1, 0.1, 0.2, 0.3, 0.4], "tickCount": 20, "labelExpr": "(datum.value > -0.15 && datum.value < 0.15) || (datum.value > 0.25 && datum.value < 0.35) ? '' : format(datum.value, '.1f')", "labelFlush": false, "labelOverlap": false, "grid": false, "domainColor": "#8a8a8a", "tickColor": "#8a8a8a", "tickSize": 3, "labelFontSize": 15.5, "labelColor": "#333", "labelPadding": 1, "title": "s", "titleX": 233.5, "titleY": -4, "titleAlign": "center", "titleBaseline": "alphabetic", "titleFontSize": 15.5, "titleFontWeight": "normal", "titleColor": "#333"}},
    "y": {"field": "y", "type": "quantitative", "scale": {"domain": [-0.13, 0.5], "nice": false, "zero": false},
      "axis": {"orient": "left", "offset": -69, "values": [-0.1, 0.1, 0.2, 0.3, 0.4, 0.5], "tickCount": 20, "format": ".1f", "labelFlush": false, "labelOverlap": false, "grid": false, "domainColor": "#8a8a8a", "tickColor": "#8a8a8a", "tickSize": 3, "labelFontSize": 15.5, "labelColor": "#333", "labelPadding": 2, "title": "µV", "titleAngle": 0, "titleX": 3, "titleY": 0, "titleAlign": "left", "titleBaseline": "middle", "titleFontSize": 15.5, "titleFontWeight": "normal", "titleColor": "#333"}},
    "color": {"field": "series", "type": "nominal", "scale": {"domain": ["known objects", "unknown objects"], "range": ["#e8282c", "#2a2ad2"]},
      "legend": {"orient": "none", "legendX": 128, "legendY": 537, "direction": "horizontal", "title": null, "symbolType": "stroke", "symbolSize": 900, "symbolStrokeWidth": 2, "labelFontSize": 16.5, "labelColor": "#222", "columnPadding": 28, "labelOffset": 6}}
   }},
  {"data": {"name": "brackets"}, "transform": [{"filter": "datum.panel == 'B2'"}],
   "mark": {"type": "line", "color": "#999", "strokeWidth": 1.3},
   "encoding": {"x": {"field": "x", "type": "quantitative"}, "y": {"field": "y", "type": "quantitative"}, "order": {"field": "ord"}}},
  {"data": {"name": "notes"}, "transform": [{"filter": "datum.panel == 'B2'"}],
   "mark": {"type": "text", "fontSize": 14, "color": "#333"},
   "encoding": {"x": {"field": "x", "type": "quantitative"}, "y": {"field": "y", "type": "quantitative"}, "text": {"field": "label"}}}
 ]},
{"width": 69, "height": 181, "data": {"values": [{"label": "delayed response"}]},
 "mark": {"type": "text", "angle": 90, "fontSize": 19, "color": "#222", "dy": 2.5, "align": "center", "baseline": "middle"},
 "encoding": {"text": {"field": "label"}}}
]
}
